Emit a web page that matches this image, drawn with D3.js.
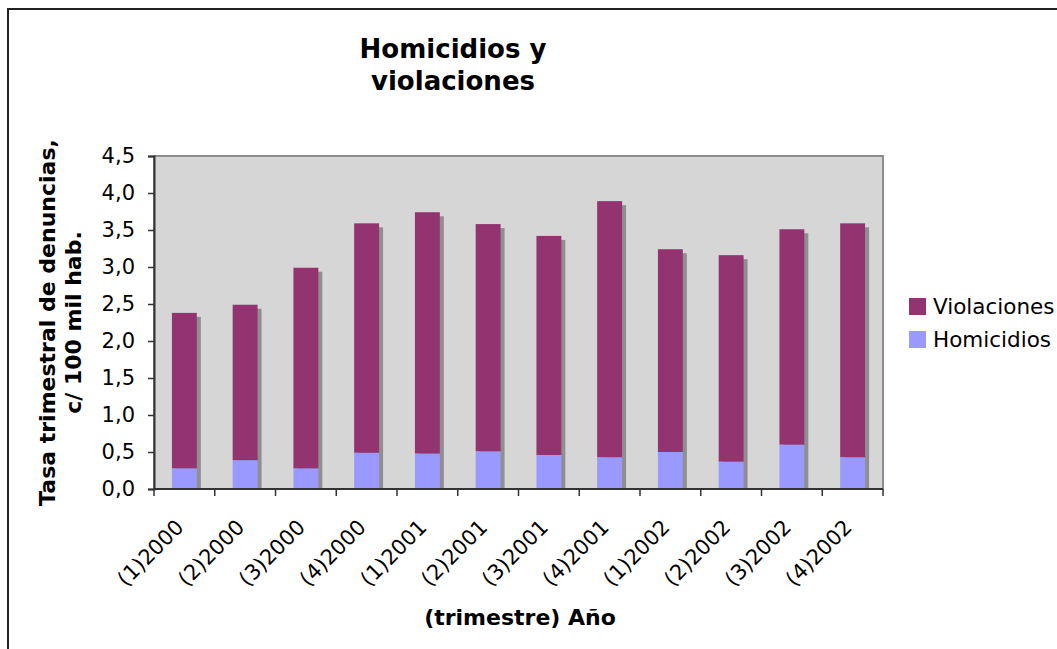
<!DOCTYPE html>
<html>
<head>
<meta charset="utf-8">
<script src="https://cdn.jsdelivr.net/npm/d3@7"></script>
<style>
  body { margin: 0; background: #fff; }
  text { font-family: "DejaVu Sans", Verdana, sans-serif; fill: #000; }
</style>
</head>
<body>
<div id="chart"></div>
<script>
// Quarter labels along the x axis.
const categories = ["(1)2000", "(2)2000", "(3)2000", "(4)2000",
                    "(1)2001", "(2)2001", "(3)2001", "(4)2001",
                    "(1)2002", "(2)2002", "(3)2002", "(4)2002"];
// Rates per 100k inhabitants.
const homicidios  = [0.28, 0.39, 0.28, 0.49, 0.48, 0.51, 0.46, 0.43, 0.50, 0.37, 0.60, 0.43];
const violaciones = [2.10, 2.10, 2.71, 3.10, 3.26, 3.07, 2.96, 3.46, 2.74, 2.79, 2.91, 3.16];
const yTicks = [0, 0.5, 1, 1.5, 2, 2.5, 3, 3.5, 4, 4.5];
const seriesNames = ["Homicidios", "Violaciones"];
const colors = { Homicidios: "#9999ff", Violaciones: "#933370" };

const width = 1057, height = 649;
const plot = { left: 154, top: 156, right: 883, bottom: 489 };

const svg = d3.select("#chart").append("svg")
  .attr("width", width)
  .attr("height", height);

// Outer chart frame (runs off the right and bottom edges).
svg.append("rect")
  .attr("x", 8).attr("y", 9)
  .attr("width", width + 20).attr("height", height + 20)
  .attr("fill", "#fff")
  .attr("stroke", "#222")
  .attr("stroke-width", 2);

const x = d3.scaleBand()
  .domain(categories)
  .range([plot.left, plot.right])
  .paddingInner(0.59)
  .paddingOuter(0.295);

const y = d3.scaleLinear()
  .domain([0, 4.5])
  .range([plot.bottom, plot.top]);

// Plot area background.
svg.append("rect")
  .attr("x", plot.left).attr("y", plot.top)
  .attr("width", plot.right - plot.left)
  .attr("height", plot.bottom - plot.top)
  .attr("fill", "#d6d6d6")
  .attr("stroke", "#8c8c8c")
  .attr("stroke-width", 2);

const rows = categories.map((c, i) => ({
  cat: c, Homicidios: homicidios[i], Violaciones: violaciones[i]
}));
const stacked = d3.stack().keys(seriesNames)(rows);

// Drop shadows behind each stacked column.
svg.append("g").selectAll("rect")
  .data(rows)
  .join("rect")
  .attr("x", d => x(d.cat) + 4)
  .attr("y", d => y(d.Homicidios + d.Violaciones) + 4)
  .attr("width", x.bandwidth())
  .attr("height", d => plot.bottom - 4 - y(d.Homicidios + d.Violaciones))
  .attr("fill", "#8f8f8f");

// Stacked bars.
svg.append("g").selectAll("g")
  .data(stacked)
  .join("g")
  .attr("fill", s => colors[s.key])
  .selectAll("rect")
  .data(s => s)
  .join("rect")
  .attr("x", d => x(d.data.cat))
  .attr("y", d => y(d[1]))
  .attr("width", x.bandwidth())
  .attr("height", d => y(d[0]) - y(d[1]));

// Y axis.
const yAxis = svg.append("g")
  .attr("transform", `translate(${plot.left},0)`)
  .call(d3.axisLeft(y).tickValues(yTicks).tickSize(6).tickPadding(13)
    .tickFormat(d => d3.format(".1f")(d).replace(".", ",")));
yAxis.select(".domain").attr("stroke", "#333").attr("stroke-width", 2);
yAxis.selectAll(".tick line").attr("stroke", "#333").attr("stroke-width", 1.5);
yAxis.selectAll("text").style("font-size", "21px").attr("fill", "#000");

// X axis line and ticks at category boundaries.
const step = x.step();
const bounds = d3.range(categories.length + 1).map(i => plot.left + i * step);
svg.append("line")
  .attr("x1", plot.left).attr("x2", plot.right)
  .attr("y1", plot.bottom).attr("y2", plot.bottom)
  .attr("stroke", "#333").attr("stroke-width", 2);
svg.append("g").selectAll("line")
  .data(bounds)
  .join("line")
  .attr("x1", d => d).attr("x2", d => d)
  .attr("y1", plot.bottom).attr("y2", plot.bottom + 7)
  .attr("stroke", "#333").attr("stroke-width", 1.5);

// Rotated category labels.
svg.append("g").selectAll("text")
  .data(categories)
  .join("text")
  .attr("transform", d => `translate(${x(d) + x.bandwidth() / 2 - 10},${plot.bottom + 29}) rotate(-45)`)
  .attr("text-anchor", "end")
  .attr("dy", "0.71em")
  .style("font-size", "21px")
  .text(d => d);

// Title.
const title = svg.append("text")
  .attr("x", 453).attr("y", 58)
  .attr("text-anchor", "middle")
  .style("font-size", "26px")
  .style("font-weight", "bold");
title.append("tspan").attr("x", 453).text("Homicidios y");
title.append("tspan").attr("x", 453).attr("dy", 32).text("violaciones");

// Axis titles.
const yTitle = svg.append("text")
  .attr("transform", `translate(55,${(plot.top + plot.bottom) / 2}) rotate(-90)`)
  .attr("text-anchor", "middle")
  .style("font-size", "22px")
  .style("font-weight", "bold");
yTitle.append("tspan").attr("x", 0).attr("y", 0).text("Tasa trimestral de denuncias,");
yTitle.append("tspan").attr("x", 0).attr("y", 26).text("c/ 100 mil hab.");

svg.append("text")
  .attr("x", 520).attr("y", 625)
  .attr("text-anchor", "middle")
  .style("font-size", "22px")
  .style("font-weight", "bold")
  .text("(trimestre) Año");

// Legend (Violaciones on top, as in the source).
const legend = svg.append("g").attr("transform", "translate(909,298)");
const legendItems = ["Violaciones", "Homicidios"];
legendItems.forEach((name, i) => {
  const row = legend.append("g").attr("transform", `translate(0,${i * 33})`);
  row.append("rect")
    .attr("width", 17).attr("height", 17)
    .attr("fill", colors[name]);
  row.append("text")
    .attr("x", 24).attr("y", 16)
    .style("font-size", "21.5px")
    .text(name);
});
</script>
</body>
</html>
